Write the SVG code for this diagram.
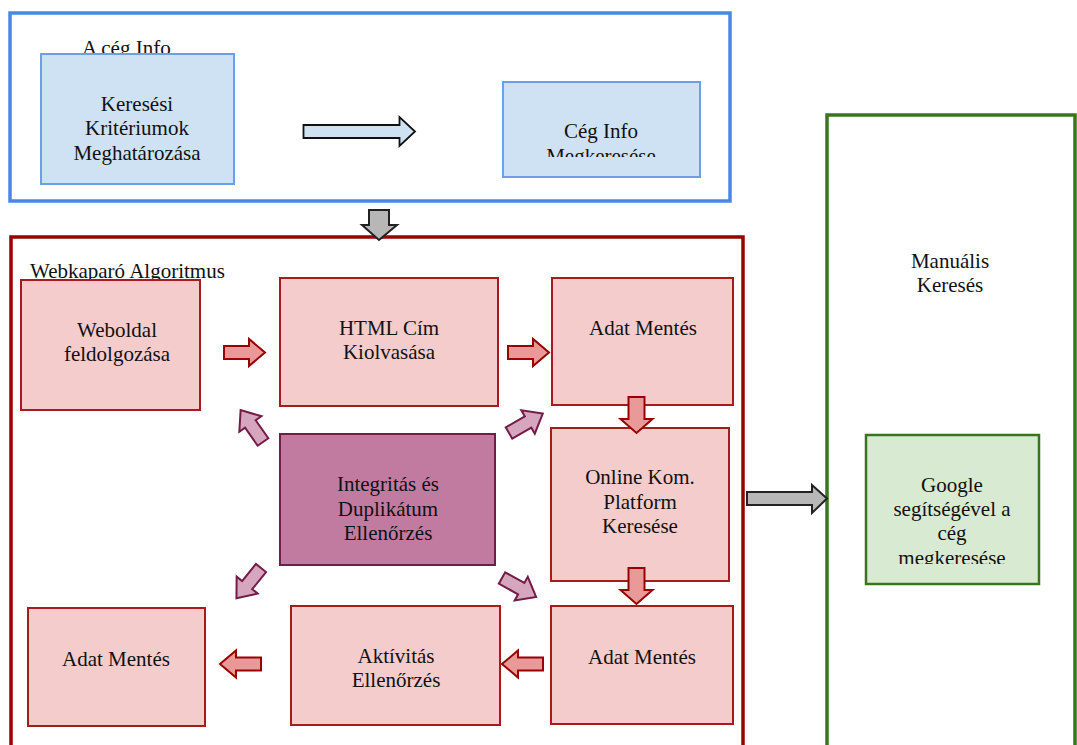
<svg xmlns="http://www.w3.org/2000/svg" xmlns:xlink="http://www.w3.org/1999/xlink" width="1077" height="745" viewBox="0 0 1077 745">
<style>
text{font-family:"Liberation Serif","Times New Roman",serif;font-size:21px;fill:#111;}
.c{text-anchor:middle;}
.frameB{fill:#fff;stroke:#4a86e8;stroke-width:3.5;}
.frameR{fill:#fff;stroke:#990000;stroke-width:3.5;}
.frameG{fill:#fff;stroke:#38761d;stroke-width:3.5;}
.boxB{fill:#cfe2f3;stroke:#6d9eeb;stroke-width:2;}
.boxR{fill:#f4cccc;stroke:#a61c1c;stroke-width:2;}
.boxP{fill:#c27ba0;stroke:#741b47;stroke-width:2;}
.boxG{fill:#d9ead3;stroke:#38761d;stroke-width:2.5;}
.aR{fill:#ea9999;stroke:#990000;stroke-width:2;stroke-linejoin:miter;}
.aP{fill:#d5a6bd;stroke:#741b47;stroke-width:2;}
.aGr{fill:#b7b7b7;stroke:#222;stroke-width:2;}
.aBl{fill:#cfe2f3;stroke:#111;stroke-width:1.8;}
</style>
<defs>
<path id="arrR" d="M0,-6.5 H25 V-13.5 L41,0 L25,13.5 V6.5 H0 Z"/>
<path id="arrD" d="M-8,0 V22 H-16 L0,36 L16,22 H8 V0 Z"/>
<path id="arrP" d="M0,-6.5 H22 V-13.5 L39,0 L22,13.5 V6.5 H0 Z"/>
<clipPath id="clipCeg"><rect x="503" y="82" width="198" height="75"/></clipPath>
<clipPath id="clipGoogle"><rect x="866" y="435" width="174" height="129"/></clipPath>
</defs>

<g id="frame-ceg-info">
<rect class="frameB" x="10" y="13" width="720" height="188"/>
<text x="82" y="55">A cég Info</text>
</g>
<g id="frame-webkaparo">
<rect class="frameR" x="11" y="237" width="732" height="530"/>
<text x="30" y="278">Webkaparó Algoritmus</text>
</g>
<g id="frame-manualis">
<rect class="frameG" x="827" y="115" width="248" height="650"/>
<text class="c" x="950" y="268">Manuális</text>
<text class="c" x="950" y="292">Keresés</text>
</g>

<g id="node-keresesi">
<rect class="boxB" x="41" y="54" width="193" height="130"/>
<text class="c" x="137" y="111">Keresési</text>
<text class="c" x="137" y="135">Kritériumok</text>
<text class="c" x="137" y="160">Meghatározása</text>
</g>
<g id="node-ceg-info">
<rect class="boxB" x="503" y="82" width="197" height="95"/>
<g clip-path="url(#clipCeg)">
<text class="c" x="601" y="138">Cég Info</text>
<text class="c" x="601" y="163">Megkeresése</text>
</g>
</g>

<g id="node-weboldal">
<rect class="boxR" x="21" y="280" width="179" height="130"/>
<text class="c" x="117" y="337">Weboldal</text>
<text class="c" x="117" y="361">feldolgozása</text>
</g>
<g id="node-html">
<rect class="boxR" x="280" y="278" width="218" height="128"/>
<text class="c" x="389" y="335">HTML Cím</text>
<text class="c" x="389" y="359">Kiolvasása</text>
</g>
<g id="node-adat-mentes-1">
<rect class="boxR" x="552" y="278" width="181" height="127"/>
<text class="c" x="643" y="335">Adat Mentés</text>
</g>
<g id="node-online-kom">
<rect class="boxR" x="551" y="428" width="178" height="153"/>
<text class="c" x="640" y="484">Online Kom.</text>
<text class="c" x="640" y="509">Platform</text>
<text class="c" x="640" y="533">Keresése</text>
</g>
<g id="node-integritas">
<rect class="boxP" x="280" y="434" width="215" height="131"/>
<text class="c" x="388" y="491">Integritás és</text>
<text class="c" x="388" y="516">Duplikátum</text>
<text class="c" x="388" y="540">Ellenőrzés</text>
</g>
<g id="node-adat-mentes-2">
<rect class="boxR" x="551" y="606" width="182" height="118"/>
<text class="c" x="642" y="664">Adat Mentés</text>
</g>
<g id="node-aktivitas">
<rect class="boxR" x="291" y="606" width="209" height="119"/>
<text class="c" x="396" y="663">Aktívitás</text>
<text class="c" x="396" y="687">Ellenőrzés</text>
</g>
<g id="node-adat-mentes-3">
<rect class="boxR" x="28" y="608" width="177" height="118"/>
<text class="c" x="116" y="666">Adat Mentés</text>
</g>

<g id="node-google">
<rect class="boxG" x="866" y="435" width="173" height="149"/>
<g clip-path="url(#clipGoogle)">
<text class="c" x="952" y="492">Google</text>
<text class="c" x="952" y="516">segítségével a</text>
<text class="c" x="952" y="540">cég</text>
<text class="c" x="952" y="565">megkeresése</text>
</g>
</g>

<g id="connectors">
<path class="aBl" d="M303.5,125 H399.5 V117 L415,131.5 L399.5,146 V138 H303.5 Z"/>
<path class="aGr" d="M369,210 H389 V225 H397 L379,240 L362,225 H369 Z"/>
<path class="aGr" d="M747,492 H812 V485 L827,498.5 L812,513 V505 H747 Z"/>
<use href="#arrR" class="aR" transform="translate(224,352.5)"/>
<use href="#arrR" class="aR" transform="translate(508,352.5)"/>
<use href="#arrD" class="aR" transform="translate(636.5,397)"/>
<use href="#arrD" class="aR" transform="translate(636.5,568)"/>
<use href="#arrR" class="aR" transform="translate(543,664) rotate(180)"/>
<use href="#arrR" class="aR" transform="translate(261,664) rotate(180)"/>
<use href="#arrP" class="aP" transform="translate(263,442) rotate(-125)"/>
<use href="#arrP" class="aP" transform="translate(509,433) rotate(-30)"/>
<use href="#arrP" class="aP" transform="translate(261,568) rotate(129)"/>
<use href="#arrP" class="aP" transform="translate(502,578) rotate(29)"/>
</g>
</svg>
